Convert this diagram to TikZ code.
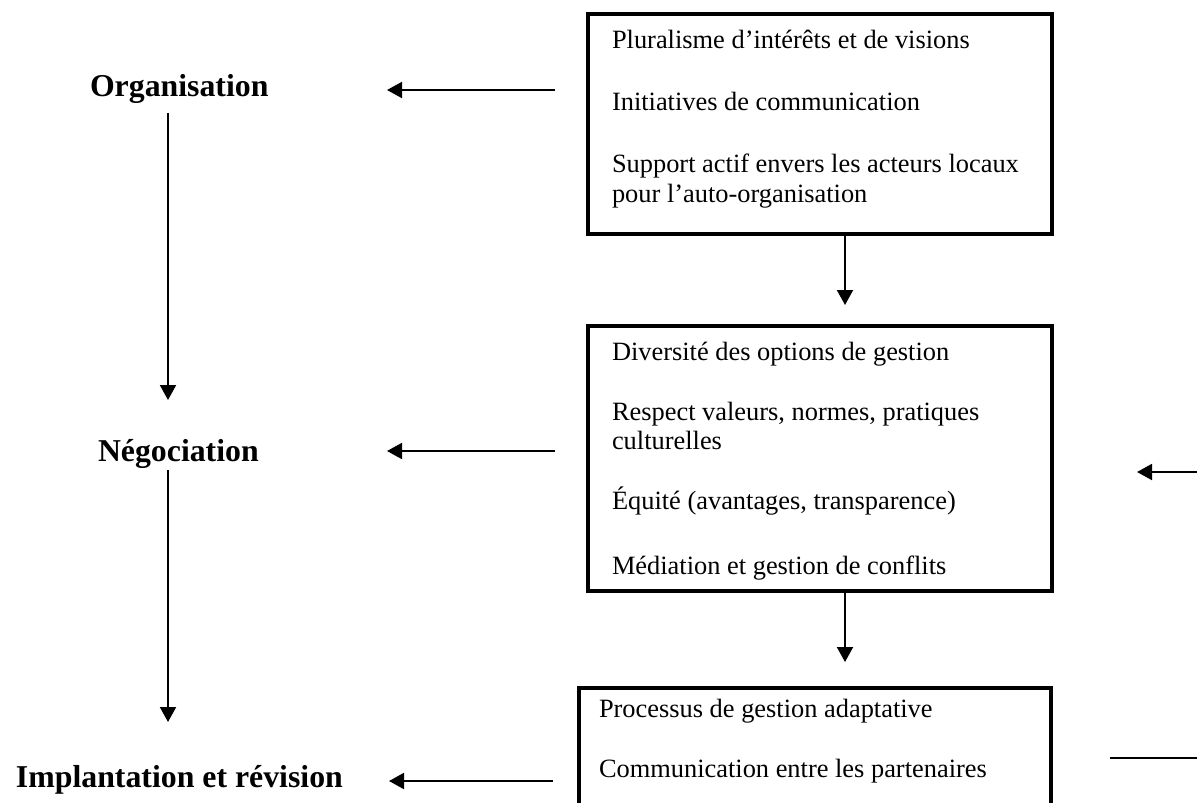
\documentclass[tikz,border=0pt]{standalone}
\usepackage{fontspec}
\setmainfont{Liberation Serif}
\usetikzlibrary{arrows.meta}

\begin{document}
\begin{tikzpicture}[->, >={Triangle[length=7.5pt,width=8pt]}, x=0.5pt, y=-0.5pt, line width=1pt]
\tikzset{box/.style={draw, rectangle, line width=2pt, minimum width=232pt, inner sep=0pt}}
\tikzset{item/.style={anchor=base west, inner sep=0pt, font=\fontsize{13.2}{15}\selectfont}}
\tikzset{stage/.style={anchor=base west, inner sep=0pt, font=\fontsize{15.9}{19}\selectfont\bfseries}}
\useasboundingbox (0,0) rectangle (1197,802);
\clip (0,0) rectangle (1197,802);

\node[stage] (org) at (89,97) {Organisation};
\node[stage] (neg) at (97,461) {Négociation};
\node[stage] (imp) at (15,787) {Implantation et révision};

\node[box, minimum height=110pt] (b1) at (820,124) {};
\node[box, minimum height=132.5pt] (b2) at (820,458.5) {};
\node[box, minimum width=236pt, minimum height=100pt] (b3) at (815,788) {};

\node[item] (p1) at (611,49) {Pluralisme d’intérêts et de visions};
\node[item] (p2) at (611,111) {Initiatives de communication};
\node[item] (p3) at (611,173) {Support actif envers les acteurs locaux};
\node[item] (p4) at (611,202) {pour l’auto-organisation};
\node[item] (n1) at (611,360) {Diversité des options de gestion};
\node[item] (n2) at (611,420) {Respect valeurs, normes, pratiques};
\node[item] (n3) at (611,449) {culturelles};
\node[item] (n4) at (611,509) {Équité (avantages, transparence)};
\node[item] (n5) at (611,574) {Médiation et gestion de conflits};
\node[item] (i1) at (598,717) {Processus de gestion adaptative};
\node[item] (i2) at (598,777) {Communication entre les partenaires};

\coordinate (v1) at (168,113);
\coordinate (v2) at (168,400);
\coordinate (v3) at (168,470);
\coordinate (v4) at (168,722);
\coordinate (h1) at (555,90);
\coordinate (h2) at (387,90);
\coordinate (h3) at (555,451);
\coordinate (h4) at (387,451);
\coordinate (h5) at (553,781);
\coordinate (h6) at (389,781);
\coordinate (d1) at (845,305);
\coordinate (d2) at (845,662);
\coordinate (r1) at (1197,472);
\coordinate (r2) at (1137,472);
\coordinate (r3) at (1197,758);
\coordinate (r4) at (1110,758);

\path (v1) edge (v2);
\path (v3) edge (v4);
\path (h1) edge (h2);
\path (h3) edge (h4);
\path (h5) edge (h6);
\path (b1.south -| d1) edge (d1);
\path (b2.south -| d2) edge (d2);
\path (r1) edge (r2);
\path (r3) edge[-] (r4);
\end{tikzpicture}
\end{document}
